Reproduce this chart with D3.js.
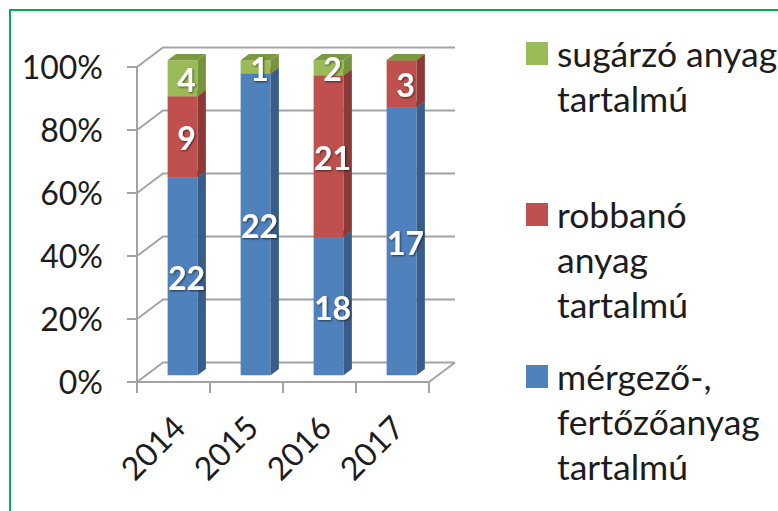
<!DOCTYPE html>
<html><head><meta charset="utf-8">
<script src="https://cdn.jsdelivr.net/npm/d3@7"></script>
<style>
html,body{margin:0;padding:0;background:#fff;}
svg{display:block;}
text{font-family:Lato,"Open Sans",sans-serif;}
</style></head>
<body>
<script>
// ---- data ----
const years = ["2014", "2015", "2016", "2017"];
const mergezo = [22, 22, 18, 17];   // mérgező-, fertőzőanyag tartalmú
const robbano = [9, 0, 21, 3];      // robbanó anyag tartalmú
const sugarzo = [4, 1, 2, 0];       // sugárzó anyag tartalmú
const yTickValues = [0, 0.2, 0.4, 0.6, 0.8, 1];

const seriesNames = ["mérgező-, fertőzőanyag tartalmú", "robbanó anyag tartalmú", "sugárzó anyag tartalmú"];
const seriesValues = [mergezo, robbano, sugarzo];
const colors = [
  {front:"#4F81BD", side:"#385D8A", top:"#41699C"},
  {front:"#C0504D", side:"#8C3A38", top:"#9E403D"},
  {front:"#9BBB59", side:"#76923C", top:"#7A9A40"}
];
const legendLines = [
  ["sugárzó anyag", "tartalmú"],
  ["robbanó", "anyag", "tartalmú"],
  ["mérgező-,", "fertőzőanyag", "tartalmú"]
];
const legendColorIdx = [2, 1, 0];

const W = 778, H = 511;
const svg = d3.select("body").append("svg").attr("width", W).attr("height", H);

// border
svg.append("rect").attr("x", 10).attr("y", 10).attr("width", 800).attr("height", 600)
  .attr("fill", "none").attr("stroke", "#00B050").attr("stroke-width", 2);

// projection
const DX = 26, DY = -19.5;
const P = (x, y, d) => [x + DX * d, y + DY * d];
const x = d3.scaleBand().domain(years).range([137, 429]).paddingInner(0.59).paddingOuter(0.295);
const y = d3.scaleLinear().domain([0, 1]).range([382, 67]);
const x0 = 137, x1 = 429;
const gridColor = "#A3A3A3";

const grid = svg.append("g").attr("stroke", gridColor).attr("stroke-width", 2).attr("fill", "none");
const line = d3.line();
yTickValues.forEach(t => {
  const yy = y(t);
  grid.append("path").attr("d", line([[x0, yy], P(x0, yy, 1), P(x1, yy, 1)]));
  grid.append("path").attr("d", line([[x0 - 10, yy], [x0, yy]]));
});
grid.append("path").attr("d", line([[x0, y(0)], [x1, y(0)], P(x1, y(0), 1)]));
grid.append("path").attr("d", line([[x0, y(1)], [x0, y(0)]]));
const step = x.step();
for (let i = 0; i <= years.length; i++) {
  const xx = x0 + i * step;
  grid.append("path").attr("d", line([[xx, y(0)], [xx, y(0) + 11]]));
}

// y labels
svg.append("g").selectAll("text").data(yTickValues).join("text")
  .attr("x", 103).attr("y", d => y(d)).attr("dy", "0.36em")
  .attr("text-anchor", "end").attr("font-size", 32).attr("fill", "#1c1c1c")
  .text(d3.format(".0%"));

// x labels
svg.append("g").selectAll("text").data(years).join("text")
  .attr("transform", d => `translate(${x(d) + x.bandwidth() / 2 - 2},${y(0) + 32}) rotate(-45)`)
  .attr("text-anchor", "end").attr("dy", "0.7em").attr("font-size", 32).attr("fill", "#1c1c1c")
  .text(d => d);

// bars
const D0 = 0.35, D1 = 0.67;
const bars = svg.append("g");
const labels = [];
years.forEach((yr, i) => {
  const total = d3.sum(seriesValues, s => s[i]);
  let cum = 0;
  const bx0 = x(yr), bx1 = x(yr) + x.bandwidth();
  seriesValues.forEach((s, k) => {
    const v = s[i];
    const a = cum / total, b = (cum + v) / total;
    cum += v;
    const yb = y(a), yt = y(b);
    const c = colors[k];
    const fbl = P(bx0, yb, D0), fbr = P(bx1, yb, D0), ftl = P(bx0, yt, D0), ftr = P(bx1, yt, D0);
    const bbr = P(bx1, yb, D1), btr = P(bx1, yt, D1), btl = P(bx0, yt, D1);
    if (v > 0) {
      bars.append("path").attr("d", line([fbl, fbr, ftr, ftl]) + "Z").attr("fill", c.front);
      bars.append("path").attr("d", line([fbr, bbr, btr, ftr]) + "Z").attr("fill", c.side);
    }
    bars.append("path").attr("d", line([ftl, ftr, btr, btl]) + "Z").attr("fill", c.top);
    if (v > 0) labels.push({v, x: (fbl[0] + fbr[0]) / 2 + 4, y: (fbl[1] + ftl[1]) / 2 + 2});
  });
});

// labels
const defs = svg.append("defs");
const f = defs.append("filter").attr("id", "sh").attr("x", "-20%").attr("y", "-20%").attr("width", "140%").attr("height", "140%");
f.append("feDropShadow").attr("dx", 1).attr("dy", 1).attr("stdDeviation", 1.2).attr("flood-color", "#000").attr("flood-opacity", 0.6);
svg.append("g").selectAll("text").data(labels).join("text")
  .attr("x", d => d.x).attr("y", d => d.y).attr("dy", "0.36em")
  .attr("text-anchor", "middle").attr("font-size", 32).attr("font-weight", "bold")
  .attr("fill", "#fff").attr("filter", "url(#sh)")
  .text(d => d.v);

// legend
const lg = svg.append("g");
const legendTop = [42, 203, 365];
legendLines.forEach((lines, j) => {
  const c = colors[legendColorIdx[j]].front;
  lg.append("rect").attr("x", 526).attr("y", legendTop[j]).attr("width", 22).attr("height", 23).attr("fill", c);
  lines.forEach((t, li) => {
    lg.append("text").attr("x", 557).attr("y", legendTop[j] + 12 + li * 45).attr("dy", "0.36em")
      .attr("font-size", 35.5).attr("fill", "#1c1c1c").text(t);
  });
});
</script>
</body></html>
